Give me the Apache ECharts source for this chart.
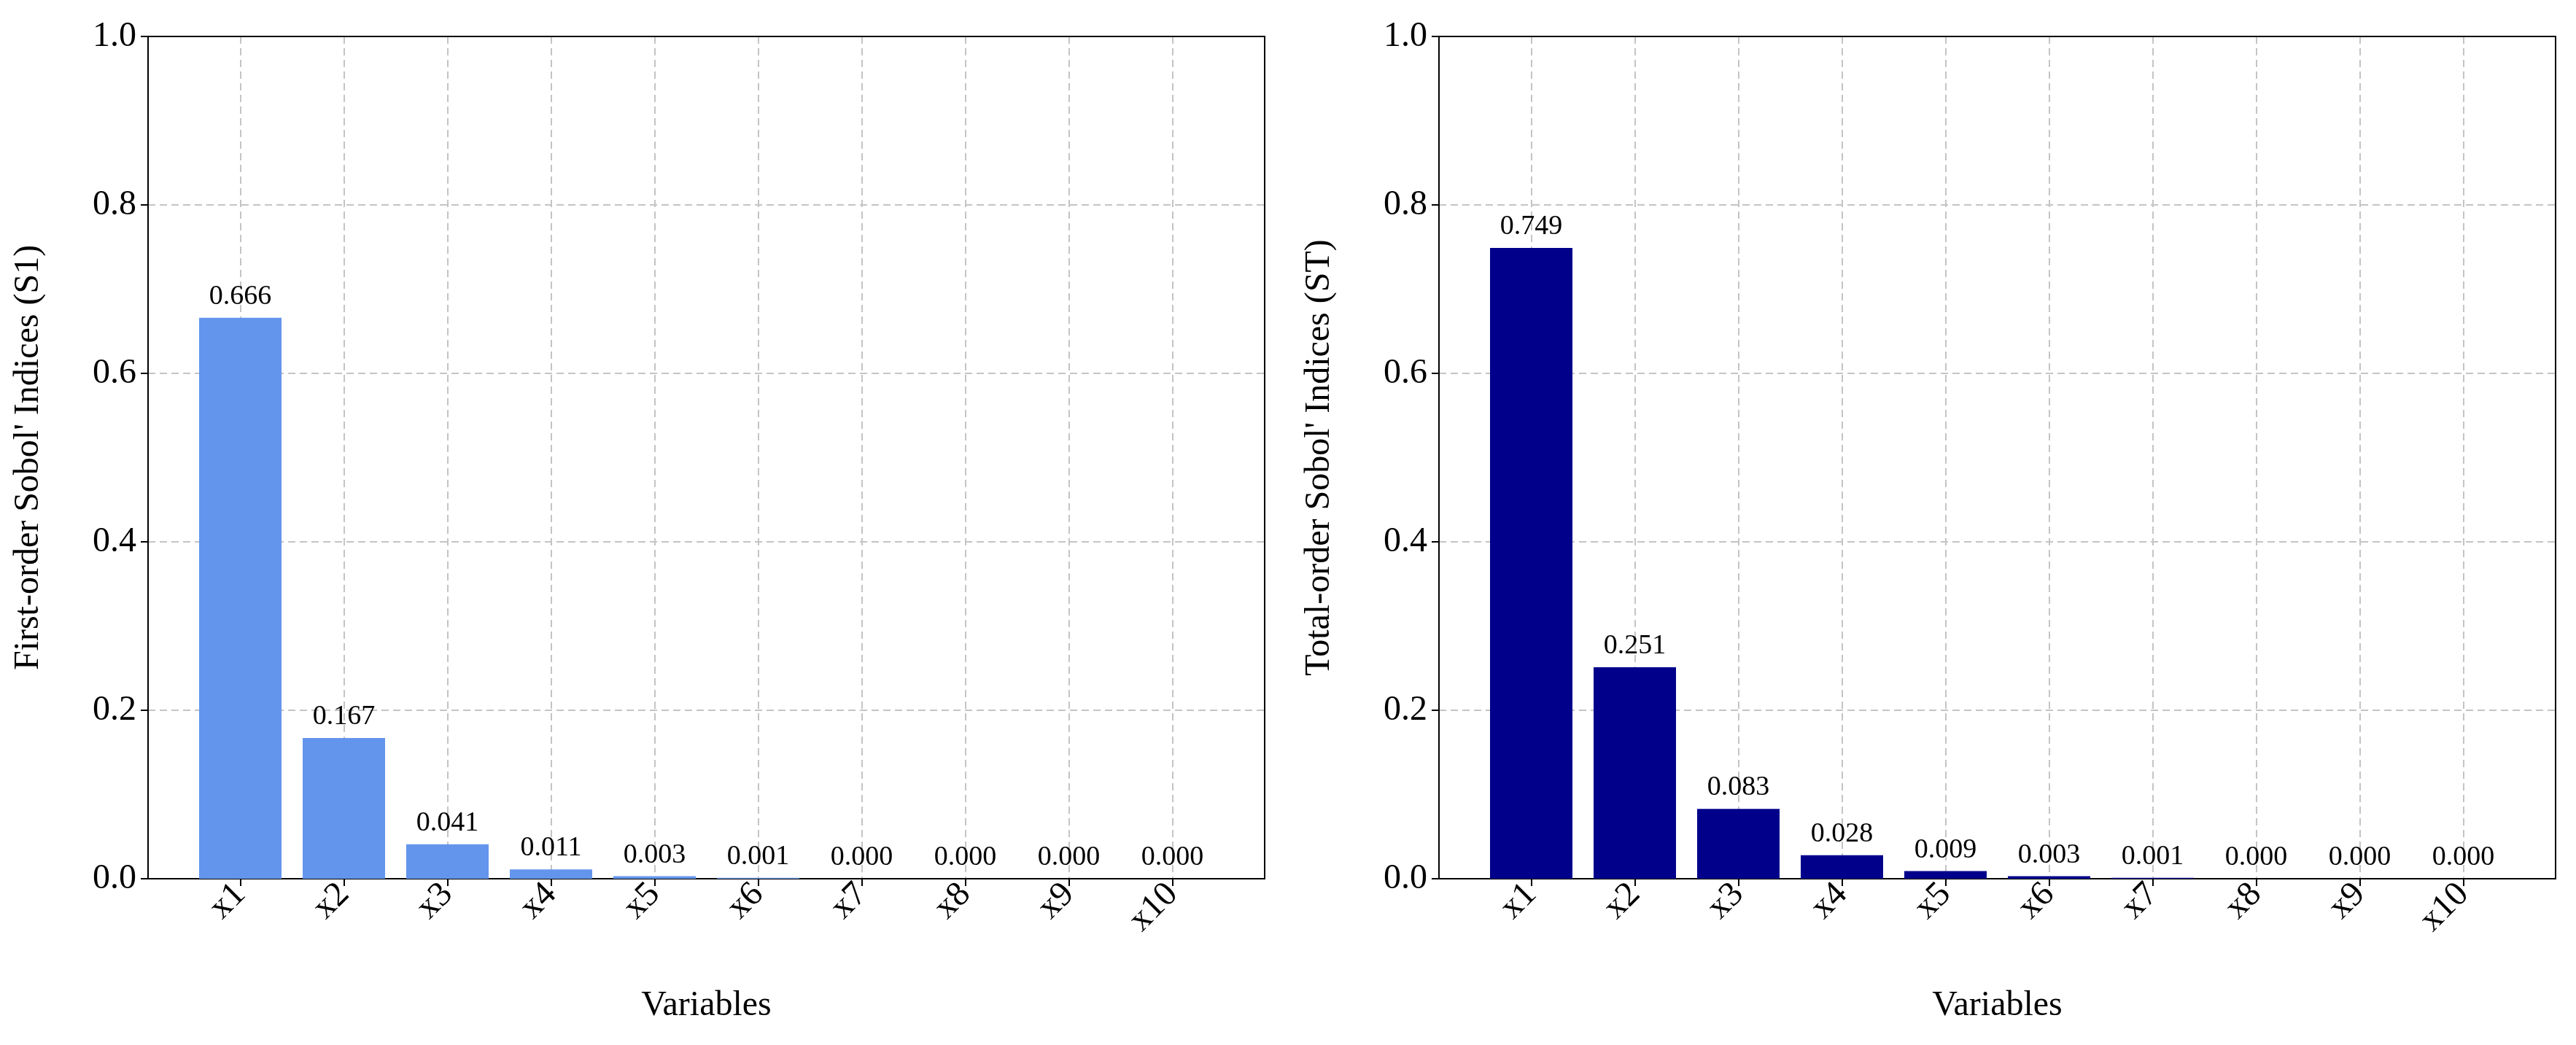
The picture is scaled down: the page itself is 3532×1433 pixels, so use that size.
<!DOCTYPE html>
<html><head><meta charset="utf-8">
<script src="https://cdn.jsdelivr.net/npm/echarts@6/dist/echarts.min.js"></script>
<style>html,body{margin:0;padding:0;background:#fff}#c{width:3532px;height:1433px}</style>
</head><body><div id="c"></div>
<script>
const categories = ['x1','x2','x3','x4','x5','x6','x7','x8','x9','x10'];
const firstOrder = [0.666,0.167,0.041,0.011,0.003,0.001,0.000,0.000,0.000,0.000];
const totalOrder = [0.749,0.251,0.083,0.028,0.009,0.003,0.001,0.000,0.000,0.000];
const F = 'Liberation Serif';
const chart = echarts.init(document.getElementById('c'));
const T=50,H=1155,W=1531,PAD=126.5;
const outerLeft=[203,1973];
const grids=[];
outerLeft.forEach(l=>grids.push({left:l,width:W,top:T,height:H,show:true,borderColor:'#000',borderWidth:2,backgroundColor:'transparent'}));
outerLeft.forEach(l=>grids.push({left:l+PAD,width:W-2*PAD,top:T,height:H}));
const grid='#c4c4c4';
const xAxes=[], yAxes=[];
const names=["First-order Sobol' Indices (S1)","Total-order Sobol' Indices (ST)"];
for(let i=0;i<2;i++){
  xAxes.push({gridIndex:i,type:'value',min:0,max:1,position:'bottom',axisLine:{show:true,onZero:false,lineStyle:{color:'#000',width:2}},axisTick:{show:false},axisLabel:{show:false},splitLine:{show:false}});
  xAxes.push({gridIndex:i,type:'value',min:0,max:1,position:'top',axisLine:{show:true,onZero:false,lineStyle:{color:'#000',width:2}},axisTick:{show:false},axisLabel:{show:false},splitLine:{show:false}});
  yAxes.push({gridIndex:i,type:'value',min:0,max:1,interval:0.2,position:'left',name:names[i],nameLocation:'middle',nameGap:140,
    nameTextStyle:{fontFamily:F,fontSize:48,color:'#000'},
    axisLine:{show:true,onZero:false,lineStyle:{color:'#000',width:2}},axisTick:{show:true,length:10,lineStyle:{color:'#000',width:2}},
    axisLabel:{fontFamily:F,fontSize:48,color:'#000',margin:16,formatter:v=>v.toFixed(1)},
    splitLine:{show:true,lineStyle:{color:grid,type:[10,6],width:2}}});
  yAxes.push({gridIndex:i,type:'value',min:0,max:1,position:'right',axisLine:{show:true,onZero:false,lineStyle:{color:'#000',width:2}},axisTick:{show:false},axisLabel:{show:false},splitLine:{show:false}});
}
for(let i=0;i<2;i++){
  xAxes.push({gridIndex:2+i,type:'value',min:0,max:9,interval:1,name:'Variables',nameLocation:'middle',nameGap:150,
    nameTextStyle:{fontFamily:F,fontSize:48,color:'#000'},
    axisLine:{show:false},axisTick:{show:true,length:10,lineStyle:{color:'#000',width:2}},
    axisLabel:{rotate:45,fontFamily:F,fontSize:48,color:'#000',margin:14,formatter:v=>categories[v]||''},
    splitLine:{show:true,lineStyle:{color:grid,type:[10,6],width:2}}});
  yAxes.push({gridIndex:2+i,type:'value',min:0,max:1,show:false});
}
function series(i,data,color){return {type:'bar',xAxisIndex:8+i,yAxisIndex:8+i,clip:false,
  data:data.map((v,k)=>[k,v]),barWidth:113,itemStyle:{color:color},z:5,
  label:{show:true,position:'top',distance:10,fontFamily:F,fontSize:38,color:'#000',formatter:p=>p.value[1].toFixed(3)}};}
// index mapping: xAxes order: [g0 bottom, g0 top, g1 bottom, g1 top, inner0, inner1]
chart.setOption({
  animation:false,
  grid:grids,
  xAxis:xAxes,
  yAxis:yAxes,
  series:[
    Object.assign(series(0,firstOrder,'#6495ED'),{xAxisIndex:4,yAxisIndex:4}),
    Object.assign(series(1,totalOrder,'#00008B'),{xAxisIndex:5,yAxisIndex:5})
  ]
});
</script></body></html>
